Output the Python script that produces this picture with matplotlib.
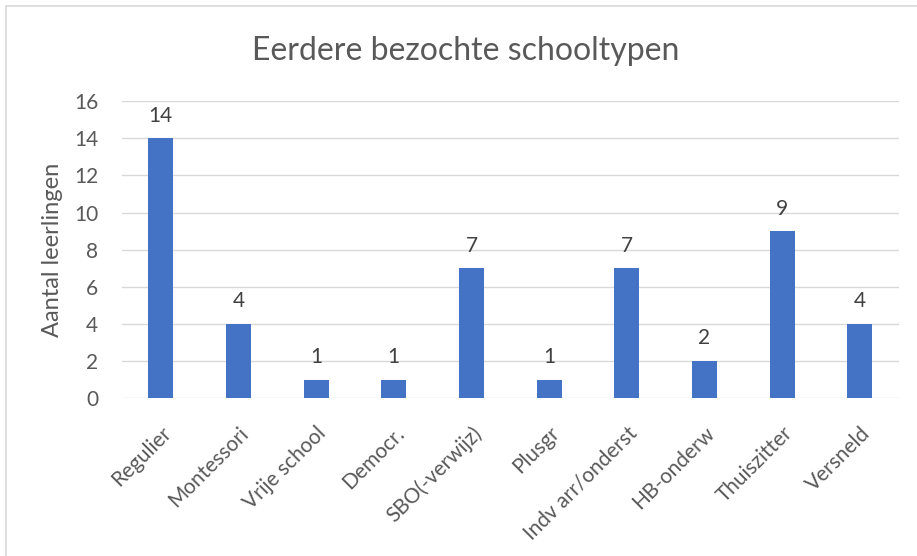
import matplotlib.pyplot as plt
from matplotlib.patches import Rectangle

categories = ['Regulier', 'Montessori', 'Vrije school', 'Democr.', 'SBO(-verwijz)',
              'Plusgr', 'Indv arr/onderst', 'HB-onderw', 'Thuiszitter', 'Versneld']
counts = [14, 4, 1, 1, 7, 1, 7, 2, 9, 4]
y_ticks = [0, 2, 4, 6, 8, 10, 12, 14, 16]

plt.rcParams['font.family'] = ['Lato', 'DejaVu Sans']
grey = '#595959'

fig = plt.figure(figsize=(9.17, 5.56), dpi=100)
ax = fig.add_axes([0.133, 0.284, 0.847, 0.534])

# chart border (runs off the right and bottom edges)
fig.patches.append(Rectangle((6 / 917, -0.1), 1.2, 1 - 6 / 556 + 0.1,
                             transform=fig.transFigure, fill=False,
                             edgecolor='#d9d9d9', linewidth=1.2))

x = range(len(categories))
bars = ax.bar(x, counts, width=0.32, color='#4472c4', zorder=3)
for b, v in zip(bars, counts):
    ax.annotate(str(v), (b.get_x() + b.get_width() / 2, v), xytext=(0, 9),
                textcoords='offset points', ha='center', va='bottom',
                fontsize=15, color='#404040')

ax.set_xlim(-0.5, len(categories) - 0.5)
ax.set_ylim(0, 16)
ax.set_yticks(y_ticks)
ax.set_xticks(list(x))
ax.set_xticklabels(categories, rotation=45, ha='right', va='top', rotation_mode='anchor')
ax.tick_params(length=0, labelsize=15, colors=grey)
ax.tick_params(axis='x', pad=18)
ax.tick_params(axis='y', pad=17)
ax.grid(axis='y', color='#d9d9d9', linewidth=1, zorder=0)
for s in ax.spines.values():
    s.set_visible(False)
ax.set_ylabel('Aantal leerlingen', fontsize=17, color=grey, labelpad=8)
fig.text(0.508, 0.908, 'Eerdere bezochte schooltypen', ha='center', va='center',
         fontsize=23, color=grey)

fig.savefig('out.png', dpi=100)
